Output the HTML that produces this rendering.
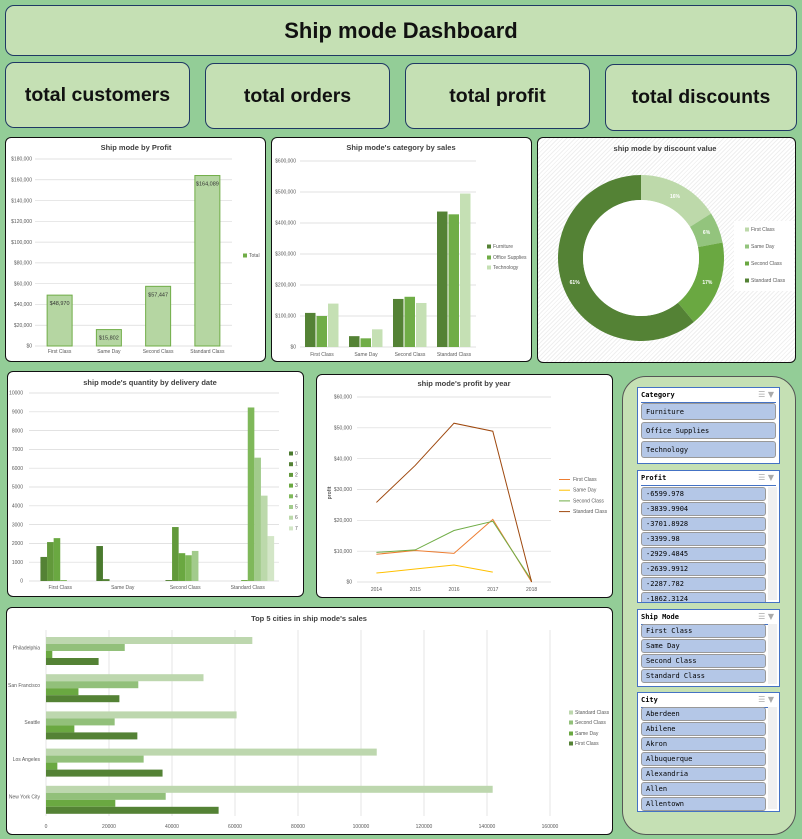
<!DOCTYPE html>
<html><head><meta charset="utf-8">
<style>
body{margin:0;width:802px;height:839px;background:#93cd97;position:relative;overflow:hidden;font-family:"Liberation Sans Narrow","Liberation Sans",sans-serif;}
.box{position:absolute;box-sizing:border-box;}
.hdr{background:#c5e0b4;border:1px solid #1f3864;border-radius:9px;display:flex;align-items:center;justify-content:center;font-weight:bold;color:#111;}
.card{background:#fff;border:1.5px solid #111;border-radius:6px;}
.sl{position:absolute;box-sizing:border-box;background:#fff;border:1.5px solid #4472c4;}
.slh{position:absolute;left:3px;right:3px;top:0;height:14px;border-bottom:1.5px solid #4472c4;font:bold 7px "DejaVu Sans Mono","Liberation Mono",monospace;line-height:15px;color:#000;}
.it{position:absolute;left:3px;height:13px;box-sizing:border-box;background:#b4c7e7;border:1px solid #999;border-radius:3px;font:7px "DejaVu Sans Mono","Liberation Mono",monospace;line-height:12px;padding-left:4px;color:#000;white-space:nowrap;overflow:hidden;}
.sb{position:absolute;right:2px;width:9px;background:#f0f0f0;}
svg text{font-family:"Liberation Sans Narrow","Liberation Sans",sans-serif;}
</style></head><body>
<div class="box hdr" style="left:5px;top:5px;width:792px;height:51px;font-size:22px;">Ship mode Dashboard</div>
<div class="box hdr" style="left:5px;top:62px;width:185px;height:66px;font-size:19.5px;">total customers</div>
<div class="box hdr" style="left:205px;top:63px;width:185px;height:66px;font-size:19.5px;">total orders</div>
<div class="box hdr" style="left:405px;top:63px;width:185px;height:66px;font-size:19.5px;">total profit</div>
<div class="box hdr" style="left:605px;top:64px;width:192px;height:67px;font-size:19.5px;">total discounts</div>

<div class="box card" style="left:5px;top:137px;width:261px;height:225px;"></div>
<div class="box card" style="left:271px;top:137px;width:261px;height:225px;"></div>
<div class="box card" style="left:537px;top:137px;width:259px;height:226px;background:repeating-linear-gradient(135deg,#fff 0 2px,#efefef 2px 3px);"></div>
<div class="box card" style="left:7px;top:371px;width:297px;height:226px;"></div>
<div class="box card" style="left:316px;top:374px;width:297px;height:224px;"></div>
<div class="box card" style="left:6px;top:607px;width:607px;height:228px;"></div>

<div class="box" style="left:622px;top:376px;width:174px;height:459px;background:#c5e0b4;border:1.5px solid #555;border-radius:24px;"></div>
<div id="slicers"></div>

<svg id="charts" style="position:absolute;left:0;top:0" width="802" height="839"></svg>

<script>
// ===== Chart 1: Ship mode by Profit =====
const c1Cats=["First Class","Same Day","Second Class","Standard Class"];
const c1Vals=[48970,15802,57447,164089];
const c1Labels=["$48,970","$15,802","$57,447","$164,089"];
const c1Ticks=[0,20000,40000,60000,80000,100000,120000,140000,160000,180000];
const c1TickLabels=["$0","$20,000","$40,000","$60,000","$80,000","$100,000","$120,000","$140,000","$160,000","$180,000"];
// ===== Chart 2: category by sales =====
const c2Cats=["First Class","Same Day","Second Class","Standard Class"];
const c2Series=["Furniture","Office Supplies","Technology"];
const c2Furniture=[110000,35000,155000,437000];
const c2Office=[100000,28000,162000,428000];
const c2Tech=[140000,57000,142000,495000];
const c2Ticks=[0,100000,200000,300000,400000,500000,600000];
const c2TickLabels=["$0","$100,000","$200,000","$300,000","$400,000","$500,000","$600,000"];
// ===== Chart 3: discount donut =====
const c3Cats=["First Class","Same Day","Second Class","Standard Class"];
const c3Vals=[16,6,17,61];
// ===== Chart 4: quantity by delivery date =====
const c4Cats=["First Class","Same Day","Second Class","Standard Class"];
const c4Series=["0","1","2","3","4","5","6","7"];
const c4S0=[0,1860,0,0];
const c4S1=[1280,100,50,0];
const c4S2=[2070,0,2870,0];
const c4S3=[2280,0,1480,50];
const c4S4=[50,0,1370,9230];
const c4S5=[0,0,1600,6560];
const c4S6=[0,0,0,4540];
const c4S7=[0,0,0,2390];
const c4Ticks=[0,1000,2000,3000,4000,5000,6000,7000,8000,9000,10000];
// ===== Chart 5: profit by year =====
const c5Years=["2014","2015","2016","2017","2018"];
const c5Series=["First Class","Same Day","Second Class","Standard Class"];
const c5First=[9000,10200,9300,20300,0];
const c5Same=[2900,4200,5500,3200,null];
const c5Second=[9600,10400,16700,19700,500];
const c5Standard=[25800,37800,51500,48900,0];
const c5Ticks=[0,10000,20000,30000,40000,50000,60000];
const c5TickLabels=["$0","$10,000","$20,000","$30,000","$40,000","$50,000","$60,000"];
// ===== Chart 6: top 5 cities =====
const c6Cities=["Philadelphia","San Francisco","Seattle","Los Angeles","New York City"];
const c6Standard=[65500,50000,60500,105000,141800];
const c6Second=[25000,29300,21800,31000,38000];
const c6Same=[2000,10300,9000,3600,22000];
const c6First=[16700,23300,29000,37000,54800];
const c6Ticks=[0,20000,40000,60000,80000,100000,120000,140000,160000];

const NS="http://www.w3.org/2000/svg";
const svg=document.getElementById('charts');
function mk(tag,attrs,parent,txt){const e=document.createElementNS(NS,tag);for(const k in attrs)e.setAttribute(k,attrs[k]);if(txt!==undefined)e.textContent=txt;(parent||svg).appendChild(e);return e;}
function grp(name){const g=mk('g',{});return g;}
function lin(d0,d1,r0,r1){return v=>r0+(v-d0)/(d1-d0)*(r1-r0);}
function title(g,x,y,t){const e=mk('text',{x:x,y:y,'text-anchor':'middle','font-size':7.5,'font-weight':'bold',fill:'#404040'},g,t);}
function lbl(g,x,y,t,anchor,size){return mk('text',{x:x,y:y,'text-anchor':anchor||'middle','font-size':size||5,fill:'#595959'},g,t);}
function legend(g,x,ys,names,colors,name){names.forEach((n,i)=>{const lg=mk('g',{},g);mk('rect',{x:x,y:ys[i]-3.5,width:4,height:4,fill:colors[i]},lg);lbl(lg,x+6,ys[i],n,'start',5);});}

// Chart 1
(function(){const g=grp('profit-by-shipmode-chart');title(g,136,150,'Ship mode by Profit');
const y=lin(0,180000,346,159);const x0=35,x1=232,bw=(x1-x0)/c1Cats.length;
c1Ticks.forEach((t,i)=>{mk('line',{x1:x0,x2:x1,y1:y(t),y2:y(t),stroke:'#d9d9d9','stroke-width':0.7},g);lbl(g,32,y(t)+1.7,c1TickLabels[i],'end');});
c1Vals.forEach((v,i)=>{const cx=x0+bw*(i+.5);const r=mk('rect',{x:cx-12.5,y:y(v),width:25,height:y(0)-y(v),fill:'#b5d6a2',stroke:'#70ad47','stroke-width':1},g);
lbl(g,cx,y(v)+10,c1Labels[i],'middle',5.5).setAttribute('fill','#333');lbl(g,cx,353,c1Cats[i]);});
legend(g,243,[257],['Total'],['#70ad47'],'legend-total');})();

// Chart 2
(function(){const g=grp('category-sales-chart');title(g,401,150,"Ship mode's category by sales");
const y=lin(0,600000,347,161);const x0=300,x1=476,bw=(x1-x0)/4;
c2Ticks.forEach((t,i)=>{mk('line',{x1:x0,x2:x1,y1:y(t),y2:y(t),stroke:'#d9d9d9','stroke-width':0.7},g);lbl(g,296,y(t)+1.7,c2TickLabels[i],'end');});
const cols=['#548235','#70ad47','#c5e0b4'];const data=[c2Furniture,c2Office,c2Tech];
c2Cats.forEach((c,i)=>{const cx=x0+bw*(i+.5);data.forEach((s,j)=>{const bx=cx-17+j*11.5;const r=mk('rect',{x:bx,y:y(s[i]),width:10.5,height:y(0)-y(s[i]),fill:cols[j]},g);});lbl(g,cx,356,c);});
legend(g,487,[248,259,269],c2Series,cols,'legend-category');})();

// Chart 3 donut
(function(){const g=grp('discount-donut-chart');title(g,665,151,'ship mode by discount value');
const cx=641,cy=258,R=83,r=58;const cols=['#bdd9aa','#93c47d','#6aa841','#548235'];const tot=c3Vals.reduce((a,b)=>a+b,0);let a=-Math.PI/2;
c3Vals.forEach((v,i)=>{const a2=a+v/tot*2*Math.PI;const lg=a2-a>Math.PI?1:0;
const p=`M${cx+R*Math.cos(a)},${cy+R*Math.sin(a)} A${R},${R} 0 ${lg} 1 ${cx+R*Math.cos(a2)},${cy+R*Math.sin(a2)} L${cx+r*Math.cos(a2)},${cy+r*Math.sin(a2)} A${r},${r} 0 ${lg} 0 ${cx+r*Math.cos(a)},${cy+r*Math.sin(a)} Z`;
const s=mk('path',{d:p,fill:cols[i]},g);
const m=(a+a2)/2,rr=(R+r)/2;mk('text',{x:cx+rr*Math.cos(m),y:cy+rr*Math.sin(m)+2,'text-anchor':'middle','font-size':5,'font-weight':'bold',fill:'#fff'},g,v+'%');a=a2;});
mk('circle',{cx:cx,cy:cy,r:r,fill:'#fff'},g);
mk('rect',{x:734,y:221,width:60,height:70,fill:'#fff'},g);
legend(g,745,[231,248,265,282],c3Cats,cols,'legend-discount');})();

// Chart 4
(function(){const g=grp('quantity-delivery-chart');title(g,150,385,"ship mode's quantity by delivery date");
const y=lin(0,10000,581,393);const x0=29,x1=279,bw=(x1-x0)/4;
c4Ticks.forEach(t=>{mk('line',{x1:x0,x2:x1,y1:y(t),y2:y(t),stroke:'#d9d9d9','stroke-width':0.7},g);lbl(g,23,y(t)+1.7,String(t),'end');});
const cols=['#4a7a2e','#548235','#62993b','#6aa841','#7fb85a','#a2cb8c','#bcd9ab','#d3e6c7'];const data=[c4S0,c4S1,c4S2,c4S3,c4S4,c4S5,c4S6,c4S7];
c4Cats.forEach((c,i)=>{const cx=x0+bw*(i+.5);const bwid=6.6;const st=cx-bwid*4;data.forEach((s,j)=>{if(!s[i])return;const r=mk('rect',{x:st+j*bwid,y:y(s[i]),width:bwid,height:y(0)-y(s[i]),fill:cols[j]},g);});lbl(g,cx,589,c);});
legend(g,289,c4Series.map((s,i)=>455+i*10.7),c4Series,cols,'legend-days');})();

// Chart 5
(function(){const g=grp('profit-year-chart');title(g,464,386,"ship mode's profit by year");
const y=lin(0,60000,582,397);const x0=357,x1=551,bw=(x1-x0)/5;const x=i=>x0+bw*(i+.5);
c5Ticks.forEach((t,i)=>{mk('line',{x1:x0,x2:x1,y1:y(t),y2:y(t),stroke:'#d9d9d9','stroke-width':0.7},g);lbl(g,352,y(t)+1.7,c5TickLabels[i],'end');});
c5Years.forEach((yr,i)=>lbl(g,x(i),591,yr));
mk('text',{x:0,y:0,transform:'translate(331,493) rotate(-90)','text-anchor':'middle','font-size':5,'font-weight':'bold',fill:'#595959'},g,'profit');
const cols=['#ed7d31','#ffc000','#70ad47','#9e480e'];const data=[c5First,c5Same,c5Second,c5Standard];
data.forEach((s,j)=>{const pts=[];s.forEach((v,i)=>{if(v!==null)pts.push(x(i)+','+y(v));});const l=mk('polyline',{points:pts.join(' '),fill:'none',stroke:cols[j],'stroke-width':1},g);});
c5Series.forEach((n,i)=>{const yy=481+i*10.7;const lg=mk('g',{},g);mk('line',{x1:559,x2:570,y1:yy-1.5,y2:yy-1.5,stroke:cols[i],'stroke-width':1},lg);lbl(lg,573,yy,n,'start');});})();

// Chart 6
(function(){const g=grp('top-cities-chart');title(g,309,621,"Top 5 cities in ship mode's sales");
const x=lin(0,160000,46,550);const y0=630,y1=816,gh=(y1-y0)/5;
c6Ticks.forEach(t=>{mk('line',{x1:x(t),x2:x(t),y1:y0,y2:y1,stroke:'#d9d9d9','stroke-width':0.7},g);lbl(g,x(t),828,String(t));});
const cols=['#bdd7ae','#92c07a','#6aa841','#548235'];const names=['Standard Class','Second Class','Same Day','First Class'];const data=[c6Standard,c6Second,c6Same,c6First];
c6Cities.forEach((c,i)=>{const top=y0+gh*i+7;data.forEach((s,j)=>{const r=mk('rect',{x:x(0),y:top+j*7,width:x(s[i])-x(0),height:7,fill:cols[j]},g);});lbl(g,40,y0+gh*(i+.5)+1,c,'end');});
legend(g,569,[714,724,735,745],names,cols,'legend-cities');})();

// Slicers
const slicerCategory=["Furniture","Office Supplies","Technology"];
const slicerProfit=["-6599.978","-3839.9904","-3701.8928","-3399.98","-2929.4845","-2639.9912","-2287.782","-1862.3124"];
const slicerShip=["First Class","Same Day","Second Class","Standard Class"];
const slicerCity=["Aberdeen","Abilene","Akron","Albuquerque","Alexandria","Allen","Allentown"];
const host=document.getElementById('slicers');
function slicer(name,title,items,top,h,first,step,ih,scroll){
 const s=document.createElement('div');s.className='sl';s.style.cssText=`left:637px;top:${top}px;width:143px;height:${h}px;overflow:hidden`;
 
 
 const hd=document.createElement('div');hd.className='slh';hd.textContent=title;s.appendChild(hd);
 const ic=document.createElement('div');ic.style.cssText='position:absolute;right:5px;top:2px;font-size:8px;color:#aaa;font-family:DejaVu Sans';ic.textContent='☰ ▼';s.appendChild(ic);
 if(scroll){const sb=document.createElement('div');sb.className='sb';sb.style.top=(first)+'px';sb.style.bottom='2px';s.appendChild(sb);}
 items.forEach((t,i)=>{const d=document.createElement('div');d.className='it';d.style.top=(first+i*step)+'px';d.style.height=ih+'px';d.style.lineHeight=(ih-1)+'px';d.style.right=scroll?'13px':'3px';d.textContent=t;
 
 
 s.appendChild(d);});
 host.appendChild(s);}
slicer('category-slicer','Category',slicerCategory,387,77,15,19,17,false);
slicer('profit-slicer','Profit',slicerProfit,470,133,16,15,13.5,true);
slicer('shipmode-slicer','Ship Mode',slicerShip,609,78,14,15,13.5,true);
slicer('city-slicer','City',slicerCity,692,120,14,15,13.5,true);
</script>
</body></html>
